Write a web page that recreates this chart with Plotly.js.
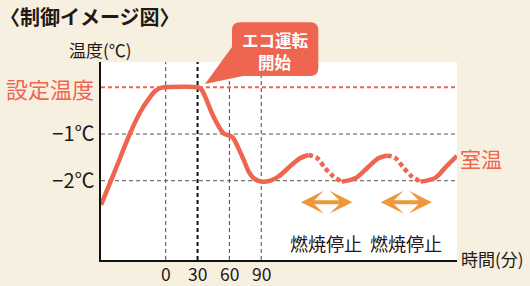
<!DOCTYPE html>
<html><head><meta charset="utf-8">
<script src="https://cdn.plot.ly/plotly-3.0.1.min.js"></script>
<style>html,body{margin:0;padding:0;background:#f7f0e0;}</style>
</head><body><div id="chart" style="width:530px;height:286px;"></div>
<script>
// ---- data (time in minutes, temperature in °C relative to the set temperature) ----
const gridTimes = [0, 30, 60, 90];
const timeTickLabels = ['0', '30', '60', '90'];
const ecoStartTime = 30;
const tempGrid = [-1, -2];
const tempTickLabels = ['−1℃', '−2℃'];
const setTemp = 0;

const solid1Time = [-61, -47, -33.9, -24.5, -16.7, -10.4, -5.5, -1, 30, 33, 35.8, 43.7, 50.0, 54.7, 62.5, 67.2, 73.6, 78.3, 83.0, 90.0, 98.6, 106.2, 118.8, 126.6, 134.5];
const solid1Temp = [-2.52, -1.74, -1.0, -0.55, -0.27, -0.09, -0.02, 0, 0, -0.03, -0.13, -0.56, -0.84, -0.99, -1.06, -1.24, -1.56, -1.81, -1.95, -2.02, -2.0, -1.91, -1.66, -1.52, -1.45];
const dotted1Time = [134.5, 142.4, 150.2, 158.0, 166];
const dotted1Temp = [-1.45, -1.51, -1.73, -1.91, -2.02];
const solid2Time = [166, 178.5, 191.1, 200.5, 208.7];
const solid2Temp = [-2.02, -1.95, -1.70, -1.52, -1.46];
const dotted2Time = [208.7, 216.2, 224.1, 232.0, 240];
const dotted2Temp = [-1.46, -1.51, -1.72, -1.91, -2.02];
const solid3Time = [240, 254.0, 263.4, 274.5];
const solid3Temp = [-2.02, -1.94, -1.72, -1.47];

const stopStart = [126.0, 201.2];
const stopEnd = [176.0, 250.8];
const stopArrowLevel = -2.46;
const stopTextLevel = -3.33;
const stopText = '燃焼停止';
const calloutLines = ['エコ運転', '開始'];

// ---- layout helpers (pixel -> paper) ----
const L = 101, R = 457, T = 62, B = 260;
const fx = x => (x - L) / (R - L);
const fy = y => (B - y) / (B - T);
const P = (x, y) => fx(x).toFixed(4) + ',' + fy(y).toFixed(4);

const RED = '#ee6550';
const ORANGE = '#f0973a';
const INK = '#231815';
const JP = '"Noto Sans CJK JP", "Noto Sans", sans-serif';

const lineStyle = {color: RED, width: 4.5, shape: 'spline', smoothing: 0.9};
const dotStyle = {color: RED, width: 4.5, shape: 'spline', smoothing: 0.9, dash: '4.5px,3px'};

const traces = [
  {x: solid1Time, y: solid1Temp, mode: 'lines', line: lineStyle},
  {x: dotted1Time, y: dotted1Temp, mode: 'lines', line: dotStyle},
  {x: solid2Time, y: solid2Temp, mode: 'lines', line: lineStyle},
  {x: dotted2Time, y: dotted2Temp, mode: 'lines', line: dotStyle},
  {x: solid3Time, y: solid3Temp, mode: 'lines', line: lineStyle}
];

const shapes = [];
gridTimes.forEach(t => {
  const em = t === ecoStartTime;
  shapes.push({type: 'line', layer: 'below', xref: 'x', yref: 'paper', x0: t, x1: t, y0: 0, y1: 1,
    line: {color: em ? '#111' : '#444', width: em ? 2 : 1, dash: '4px,3px'}});
});
tempGrid.forEach(v => {
  shapes.push({type: 'line', layer: 'below', xref: 'paper', yref: 'y', x0: 0, x1: 1, y0: v, y1: v,
    line: {color: '#555', width: 1, dash: '4px,3px'}});
});
shapes.push({type: 'line', layer: 'below', xref: 'paper', yref: 'y', x0: 0, x1: 1, y0: setTemp, y1: setTemp,
  line: {color: RED, width: 2, dash: '4px,3px'}});
// callout bubble
const bubble = 'M' + P(240, 22.3) + ' L' + P(310.3, 22.3) + ' Q' + P(318.3, 22.3) + ' ' + P(318.3, 30.3) +
  ' L' + P(318.3, 68) + ' Q' + P(318.3, 76) + ' ' + P(310.3, 76) + ' L' + P(243, 76) + ' L' + P(205, 84) +
  ' L' + P(232, 47) + ' L' + P(232, 30.3) + ' Q' + P(232, 22.3) + ' ' + P(240, 22.3) + ' Z';
shapes.push({type: 'path', layer: 'above', xref: 'paper', yref: 'paper', path: bubble,
  fillcolor: RED, line: {width: 0}});

const annotations = [];
const txt = (x, y, text, size, color, anchor, weight) => annotations.push({
  xref: 'paper', yref: 'paper', x: fx(x), y: fy(y), text: text, showarrow: false,
  xanchor: anchor || 'center', yanchor: 'middle', borderpad: 0, borderwidth: 0,
  font: {family: JP, size: size, color: color, weight: weight || 'normal'}
});
txt(100, 49.5, '温度(℃)', 17, INK, 'center');
txt(50.5, 88, '設定温度', 22, RED, 'center');
txt(481, 158, '室温', 21, RED, 'center');
txt(492, 258, '時間(分)', 17, INK, 'center');
txt(275, 39.8, calloutLines[0], 16.5, '#ffffff', 'center', 'bold');
txt(275, 61.8, calloutLines[1], 16.5, '#ffffff', 'center', 'bold');

gridTimes.forEach((t, i) => annotations.push({xref: 'x', yref: 'paper', x: t, y: fy(273.5), text: timeTickLabels[i],
  showarrow: false, xanchor: 'center', yanchor: 'middle', font: {family: JP, size: 17.5, color: INK}}));

stopStart.forEach((s, i) => {
  annotations.push({xref: 'x', yref: 'y', axref: 'x', ayref: 'y', x: stopEnd[i], y: stopArrowLevel,
    ax: s, ay: stopArrowLevel, text: '', showarrow: true, arrowside: 'end+start',
    arrowhead: 3, startarrowhead: 3, arrowsize: 0.95, startarrowsize: 0.95, arrowwidth: 4, arrowcolor: ORANGE});
  annotations.push({xref: 'x', yref: 'y', x: (s + stopEnd[i]) / 2, y: stopTextLevel, text: stopText,
    showarrow: false, xanchor: 'center', yanchor: 'middle', font: {family: JP, size: 18, color: INK}});
});

const layout = {
  width: 530, height: 286,
  margin: {l: L, r: 530 - R, t: T, b: 286 - B, pad: 0},
  paper_bgcolor: '#f7f0e0', plot_bgcolor: '#ffffff',
  showlegend: false,
  title: {text: '〈制御イメージ図〉', x: 0, xref: 'container', xanchor: 'left', y: 1 - 18 / 286, yanchor: 'middle',
    font: {family: JP, size: 20, color: INK, weight: 'bold'}},
  xaxis: {range: [-61, 274.5], showticklabels: false, showgrid: false, zeroline: false,
    showline: true, linecolor: '#111', linewidth: 2, ticks: '', fixedrange: true},
  yaxis: {range: [-3.698, 0.542], tickvals: tempGrid, ticktext: tempTickLabels, showgrid: false, zeroline: false,
    showline: true, linecolor: '#111', linewidth: 2.5, ticks: '', tickfont: {family: JP, size: 20, color: INK}, fixedrange: true},
  shapes: shapes,
  annotations: annotations
};

Plotly.newPlot('chart', traces, layout, {staticPlot: true, displayModeBar: false});
</script>
</body></html>
